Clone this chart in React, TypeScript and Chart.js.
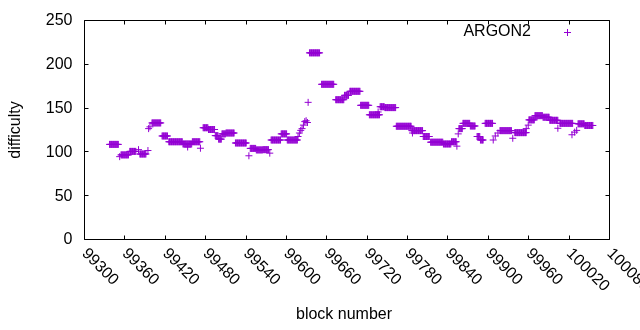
import React, { useEffect, useRef } from "react";
import { Chart, registerables } from "chart.js";

Chart.register(...registerables);

// Runs of blocks sharing the same difficulty (first block, last block, value)
const segStart = [
  99338, 99353, 99355, 99368, 99381, 99383, 99395, 99396, 99398, 99401, 99416, 99426, 99447, 99454, 99461, 99473,
  99477, 99485, 99495, 99500, 99505, 99511, 99525, 99545, 99547, 99556, 99566, 99576, 99578, 99593, 99602,
  99618, 99620, 99622, 99624, 99626, 99628, 99630, 99632, 99633, 99635, 99653, 99674, 99687, 99695, 99711,
  99724, 99737, 99740, 99747, 99764, 99787, 99788, 99804, 99815, 99834, 99846, 99854, 99856, 99857, 99863,
  99874, 99884, 99889, 99896, 99908, 99911, 99915, 99918, 99937, 99940, 99957, 99960, 99961, 99970, 99982,
  99992, 100004, 100007, 100025, 100029, 100032, 100034, 100044,
];
const segEnd = [
  99351, 99353, 99366, 99377, 99381, 99392, 99395, 99396, 99398, 99414, 99424, 99446, 99460, 99454, 99472, 99473,
  99484, 99494, 99499, 99504, 99510, 99523, 99541, 99545, 99555, 99565, 99574, 99576, 99592, 99601, 99617,
  99618, 99620, 99622, 99624, 99626, 99628, 99630, 99632, 99633, 99650, 99671, 99686, 99693, 99710, 99723,
  99739, 99737, 99746, 99763, 99786, 99803, 99788, 99813, 99833, 99845, 99853, 99854, 99856, 99862, 99873,
  99881, 99888, 99893, 99907, 99908, 99911, 99915, 99935, 99937, 99957, 99957, 99960, 99969, 99981, 99991,
  100004, 100004, 100026, 100025, 100029, 100032, 100043, 100056,
];
const segValue = [
  108, 94, 96, 100, 102, 97, 101, 126, 128, 132.5, 117.6, 111, 108.5, 105, 111, 103.6,
  127, 125, 118, 114, 120, 121, 109.6, 95, 103.4, 101.7, 102, 98, 113, 120, 113,
  117, 121, 124, 126, 130, 134, 135, 133, 156, 212.5, 176.6, 159, 164, 168.6, 152.6,
  141.8, 145, 151, 150, 128.7, 123.7, 121, 117, 110.5, 108.5, 111, 106, 120, 126, 132,
  129, 117, 113, 132, 113, 117.6, 121, 123.7, 115, 121.4, 126, 130, 136, 140.8, 139,
  135.5, 126.4, 132, 119, 122, 124, 131.5, 129.6,
];

const xTicks = [99300, 99360, 99420, 99480, 99540, 99600, 99660, 99720, 99780, 99840, 99900, 99960, 100020, 100080];
const yTicks = [0, 50, 100, 150, 200, 250];
const seriesName = "ARGON2";
const xTitle = "block number";
const yTitle = "difficulty";

const COLOR = "#9400d3";
const FONT = '16px "Liberation Sans", Arial, sans-serif';

function buildPoints() {
  const pts: { x: number; y: number }[] = [];
  for (let i = 0; i < segStart.length; i++) {
    for (let b = segStart[i]; b <= segEnd[i]; b++) pts.push({ x: b, y: segValue[i] });
  }
  return pts;
}

const framePlugin = {
  id: "gnuplotFrame",
  afterDraw(chart: any) {
    const ctx = chart.ctx as CanvasRenderingContext2D;
    const { left, right, top, bottom } = chart.chartArea;
    const xs = chart.scales.x;
    const ys = chart.scales.y;
    const L = Math.round(left) + 0.5;
    const R = Math.round(right) + 0.5;
    const T = Math.round(top) + 0.5;
    const B = Math.round(bottom) + 0.5;
    const tl = 4;
    ctx.save();
    ctx.strokeStyle = "#000";
    ctx.lineWidth = 1;
    ctx.beginPath();
    ctx.rect(L, T, R - L, B - T);
    for (const v of yTicks) {
      const y = Math.round(ys.getPixelForValue(v)) + 0.5;
      ctx.moveTo(L, y);
      ctx.lineTo(L + tl, y);
      ctx.moveTo(R, y);
      ctx.lineTo(R - tl, y);
    }
    for (const v of xTicks) {
      const x = Math.round(xs.getPixelForValue(v)) + 0.5;
      ctx.moveTo(x, B);
      ctx.lineTo(x, B - tl);
      ctx.moveTo(x, T);
      ctx.lineTo(x, T + tl);
    }
    ctx.stroke();

    ctx.fillStyle = "#000";
    ctx.font = FONT;
    ctx.textAlign = "right";
    ctx.textBaseline = "middle";
    for (const v of yTicks) {
      const y = ys.getPixelForValue(v);
      ctx.fillText(String(v), L - 12, y + 1);
    }
    ctx.textAlign = "left";
    for (const v of xTicks) {
      const x = xs.getPixelForValue(v);
      ctx.save();
      ctx.translate(x + 1, B + 11);
      ctx.rotate(Math.PI / 4);
      ctx.fillText(String(v), 0, 1);
      ctx.restore();
    }
    // axis titles
    ctx.textAlign = "center";
    ctx.fillText(xTitle, (L + R) / 2 - 3, 315);
    ctx.save();
    ctx.translate(16, (T + B) / 2);
    ctx.rotate(-Math.PI / 2);
    ctx.fillText(yTitle, 0, 0);
    ctx.restore();

    // legend
    ctx.textAlign = "right";
    ctx.fillText(seriesName, 531, 32);
    ctx.strokeStyle = COLOR;
    ctx.beginPath();
    ctx.moveTo(564, 32.5);
    ctx.lineTo(571, 32.5);
    ctx.moveTo(567.5, 29);
    ctx.lineTo(567.5, 36);
    ctx.stroke();
    ctx.restore();
  },
};

export default function App() {
  const ref = useRef<HTMLCanvasElement | null>(null);
  useEffect(() => {
    if (!ref.current) return;
    const chart = new Chart(ref.current, {
      type: "scatter",
      data: {
        datasets: [
          {
            label: seriesName,
            data: buildPoints(),
            showLine: false,
            pointStyle: "cross",
            pointRadius: 3.5,
            pointHoverRadius: 3.5,
            borderWidth: 1,
            borderColor: COLOR,
            backgroundColor: COLOR,
          },
        ],
      },
      options: {
        responsive: false,
        animation: false,
        events: [],
        layout: { padding: { left: 84, top: 20, right: 31, bottom: 91 } },
        plugins: { legend: { display: false }, tooltip: { enabled: false } },
        scales: {
          x: { type: "linear", display: false, min: 99300, max: 100080 },
          y: { type: "linear", display: false, min: 0, max: 250 },
        },
      },
      plugins: [framePlugin],
    });
    return () => chart.destroy();
  }, []);
  return (
    <div style={{ position: "fixed", left: 0, top: 0, width: 640, height: 330, background: "#fff" }}>
      <canvas ref={ref} width={640} height={330} style={{ display: "block" }} />
    </div>
  );
}
